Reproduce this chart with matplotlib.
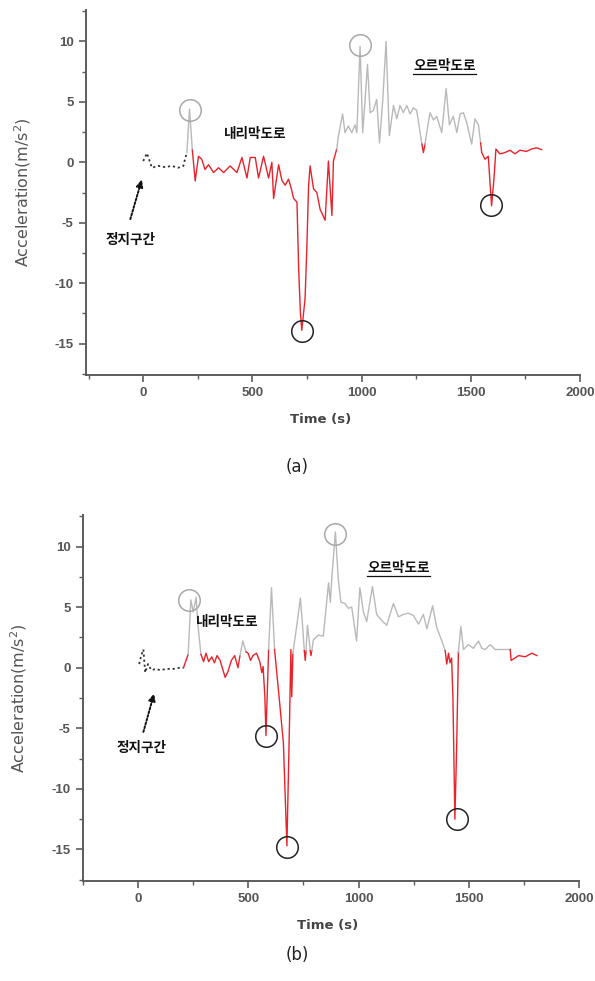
import matplotlib
matplotlib.use("Agg")
import matplotlib.pyplot as plt
from matplotlib.ticker import MultipleLocator
from matplotlib.lines import Line2D

plt.rcParams['font.family'] = ['Liberation Sans', 'Noto Sans CJK KR', 'DejaVu Sans']
plt.rcParams['axes.unicode_minus'] = False

# ---- (a) ----
stop_t_a = [0, 17, 40, 70, 100, 130, 160, 184, 192, 200]
stop_acc_a = [0.1, 0.75, -0.45, -0.3, -0.4, -0.3, -0.45, -0.3, 0.3, 0.8]

time_a = [200, 212, 225, 238, 253, 268, 283, 299, 322, 345, 368, 398, 429, 452,
          475, 490, 513, 528, 551, 574, 589, 597, 620, 635, 650, 665, 674, 689,
          704, 712, 720, 726, 741, 749, 757, 764, 780, 795, 810, 833, 848, 864,
          871, 886, 894, 913, 924, 939, 955, 970, 978, 993, 1005, 1016, 1027,
          1039, 1054, 1069, 1082, 1097, 1112, 1127, 1146, 1161, 1176, 1191,
          1207, 1222, 1237, 1252, 1268, 1276, 1283, 1290, 1298, 1313, 1329,
          1344, 1367, 1387, 1402, 1420, 1436, 1451, 1466, 1481, 1504, 1519,
          1535, 1545, 1550, 1565, 1580, 1595, 1606, 1615, 1633, 1656, 1679,
          1702, 1725, 1755, 1778, 1801, 1824]
accel_a = [0.8, 4.4, 1.0, -1.55, 0.5, 0.25, -0.6, -0.2, -0.85, -0.45, -0.85, -0.3,
           -0.85, 0.4, -1.3, 0.4, 0.4, -1.3, 0.5, -1.3, 0.0, -3.0, -0.2, -1.5,
           -1.9, -1.4, -1.9, -3.0, -3.3, -9.0, -12.5, -13.9, -11.3, -7.2, -2.0,
           -0.3, -2.2, -2.5, -3.9, -4.8, 0.1, -4.4, 0.1, 1.1, 2.2, 4.0, 2.45,
           3.0, 2.45, 3.1, 2.45, 9.6, 2.45, 5.2, 8.1, 4.1, 4.3, 5.2, 1.6, 5.2,
           10.0, 2.2, 4.7, 3.6, 4.7, 4.1, 4.7, 4.0, 4.5, 4.3, 2.45, 1.5, 0.8,
           1.5, 2.45, 4.1, 3.5, 3.8, 2.45, 6.1, 3.1, 3.8, 2.45, 4.0, 4.1, 3.3,
           1.5, 3.6, 3.1, 1.6, 0.8, 0.25, 0.5, -3.6, -1.4, 1.1, 0.7, 0.8, 1.0,
           0.7, 1.0, 0.9, 1.1, 1.2, 1.05]
# 'b' = braking (red) segment, 'n' = normal (grey) segment, per point -> next point
phase_a = ['n'] * 2 + ['b'] * 41 + ['n'] * 28 + ['b'] * 2 + ['n'] * 16 + ['b'] * 16

circle_t_a = [212, 992, 726, 1594]
circle_y_a = [4.3, 9.7, -14.0, -3.5]
circle_c_a = ['#a8a8a8', '#a8a8a8', '#222222', '#222222']

# ---- (b) ----
stop_t_b = [5, 14, 24, 32, 45, 60, 80, 100, 130, 160, 190, 206]
stop_acc_b = [0.3, 1.0, 1.5, -0.4, 0.3, -0.2, -0.1, -0.2, -0.1, -0.1, 0.0, 0.0]

time_b = [206, 227, 239, 250, 263, 272, 285, 297, 308, 320, 334, 346, 358, 372,
          385, 395, 408, 423, 438, 453, 462, 475, 490, 499, 510, 521, 537, 552,
          561, 567, 575, 580, 592, 605, 619, 640, 659, 668, 675, 687, 693, 697,
          702, 720, 736, 748, 754, 758, 762, 768, 776, 781, 784, 788, 795, 818,
          840, 864, 872, 879, 895, 908, 920, 938, 954, 969, 991, 1006, 1022,
          1037, 1063, 1082, 1105, 1128, 1158, 1181, 1204, 1226, 1249, 1272,
          1294, 1310, 1336, 1355, 1378, 1393, 1400, 1408, 1415, 1422, 1428,
          1437, 1445, 1453, 1464, 1476, 1498, 1521, 1544, 1559, 1574, 1597,
          1620, 1650, 1688, 1692, 1726, 1756, 1786, 1809]
accel_b = [0.0, 1.1, 5.6, 4.6, 5.8, 3.4, 1.1, 0.5, 1.2, 0.5, 0.9, 0.4, 1.0, 0.6,
           -0.2, -0.8, -0.3, 0.6, 1.0, 0.0, 1.0, 2.2, 1.3, 1.2, 0.6, 1.0, 1.2, 0.5,
           -0.4, 0.1, -2.4, -5.6, 1.5, 6.6, 1.5, -2.5, -6.2, -11.0, -14.7, -4.3,
           1.5, -2.4, 1.2, 3.5, 5.75, 3.0, 1.4, 0.6, 1.4, 3.5, 2.3, 1.4, 1.0, 1.4,
           2.3, 2.7, 2.6, 7.0, 5.4, 7.5, 11.2, 7.3, 5.4, 5.3, 4.9, 5.0, 2.2, 6.6,
           4.6, 3.8, 6.7, 4.4, 3.9, 3.5, 5.3, 4.2, 4.4, 4.5, 4.3, 3.6, 4.4, 3.2,
           5.1, 3.3, 2.2, 1.4, 0.3, 1.2, 0.4, 0.8, -2.4, -12.5, -6.6, 1.3, 3.4,
           1.5, 1.9, 1.6, 2.2, 1.6, 1.5, 1.9, 1.5, 1.5, 1.5, 0.6, 1.0, 0.9, 1.2,
           1.0]
phase_b = (['b'] * 1 + ['n'] * 5 + ['b'] * 14 + ['n'] * 2 + ['b'] * 10 + ['n'] * 2
           + ['b'] * 8 + ['n'] * 4 + ['b'] * 2 + ['n'] * 3 + ['b'] * 2
           + ['n'] * 32 + ['b'] * 8 + ['n'] * 11 + ['b'] * 6)

circle_t_b = [233, 895, 580, 675, 1447]
circle_y_b = [5.55, 11.0, -5.6, -14.8, -12.5]
circle_c_b = ['#a8a8a8', '#a8a8a8', '#222222', '#222222', '#222222']

PHASE_COLORS = {'b': '#e8232b', 'n': '#b9b9b9'}
AXIS_COLOR = '#5c5c5c'

fig = plt.figure(figsize=(5.95, 9.81), dpi=100)


def draw_trace(ax, t, acc, phase):
    start = 0
    n = len(t)
    for i in range(1, n):
        if i == n - 1 or phase[i] != phase[start]:
            ax.plot(t[start:i + 1], acc[start:i + 1], color=PHASE_COLORS[phase[start]],
                    lw=1.0, solid_joinstyle='round', zorder=2)
            start = i


def underline(fig, txt):
    fig.canvas.draw()
    bb = txt.get_window_extent().transformed(fig.transFigure.inverted())
    fig.add_artist(Line2D([bb.x0, bb.x1], [bb.y0 - 0.001, bb.y0 - 0.001],
                          transform=fig.transFigure, color='#111111', lw=0.9))


def panel(rect, xlim, stop_t, stop_acc, t, acc, phase, ct, cy, cc,
          down_xy, up_xy, stop_xy, arrow_from, arrow_to, xlabel_x, ylabel_x):
    ax = fig.add_axes(rect)
    for s in ('top', 'right'):
        ax.spines[s].set_visible(False)
    for s in ('left', 'bottom'):
        ax.spines[s].set_color(AXIS_COLOR)
        ax.spines[s].set_linewidth(1.4)
    ax.set_xlim(*xlim)
    ax.set_ylim(-17.6, 12.6)
    ax.xaxis.set_minor_locator(MultipleLocator(250))
    ax.yaxis.set_major_locator(MultipleLocator(5))
    ax.yaxis.set_minor_locator(MultipleLocator(2.5))
    ax.set_xticks([0, 500, 1000, 1500, 2000])
    ax.tick_params(which='major', length=5, width=1.2, color=AXIS_COLOR,
                   labelsize=9.5, labelcolor='#555555', direction='out', pad=4)
    ax.tick_params(which='minor', length=3, width=1.0, color=AXIS_COLOR, direction='out')
    for lab in ax.get_xticklabels() + ax.get_yticklabels():
        lab.set_fontweight('bold')

    ax.plot(stop_t, stop_acc, color='#333333', lw=1.3, ls=(0, (1.2, 1.6)), zorder=2)
    draw_trace(ax, t, acc, phase)
    for x, y, c in zip(ct, cy, cc):
        ax.plot([x], [y], marker='o', ms=15.5, mfc='none', mec=c, mew=1.1, zorder=3)

    kfont = dict(family=['Noto Sans CJK KR', 'DejaVu Sans'], fontsize=9.8,
                 fontweight='bold', color='#111111', ha='center', va='center')
    ax.text(*down_xy, '내리막도로', **kfont)
    up = ax.text(*up_xy, '오르막도로', **kfont)
    ax.text(*stop_xy, '정지구간', **kfont)
    ax.annotate('', xy=arrow_to, xytext=arrow_from,
                arrowprops=dict(arrowstyle='-|>,head_length=0.45,head_width=0.2',
                                color='#111111', lw=1.4, ls=(0, (1, 1)),
                                shrinkA=0, shrinkB=0))

    ax.set_xlabel('Time (s)', fontsize=9.5, fontweight='bold', color='#444444',
                  family=['DejaVu Sans'])
    ax.xaxis.set_label_coords(xlabel_x, -0.103)
    ax.set_ylabel('Acceleration(m/s$^2$)', fontsize=11.5, color='#555555',
                  family=['DejaVu Sans'])
    ax.yaxis.set_label_coords(ylabel_x, 0.5)
    return ax, up


ax_a, up_a = panel([86 / 595, 1 - 375 / 981, 494 / 595, 365 / 981], (-262, 2000),
                   stop_t_a, stop_acc_a, time_a, accel_a, phase_a,
                   circle_t_a, circle_y_a, circle_c_a,
                   (512, 2.3), (1380, 8.0), (-59, -6.4), (-59, -4.7), (-6, -1.4),
                   (321 - 86) / 494, (33 - 86) / 494)
ax_b, up_b = panel([83 / 595, 1 - 881 / 981, 496 / 595, 366 / 981], (-250, 2000),
                   stop_t_b, stop_acc_b, time_b, accel_b, phase_b,
                   circle_t_b, circle_y_b, circle_c_b,
                   (403, 3.8), (1182, 8.2), (17, -6.6), (24, -5.3), (73, -2.1),
                   (328 - 83) / 496, (29 - 83) / 496)

fig.text(297 / 595, 1 - 467 / 981, '(a)', fontsize=12, color='#222222',
         family=['DejaVu Sans'], ha='center', va='center')
fig.text(297 / 595, 1 - 955 / 981, '(b)', fontsize=12, color='#222222',
         family=['DejaVu Sans'], ha='center', va='center')

underline(fig, up_a)
underline(fig, up_b)

fig.savefig('out.png', dpi=100, facecolor='white')
